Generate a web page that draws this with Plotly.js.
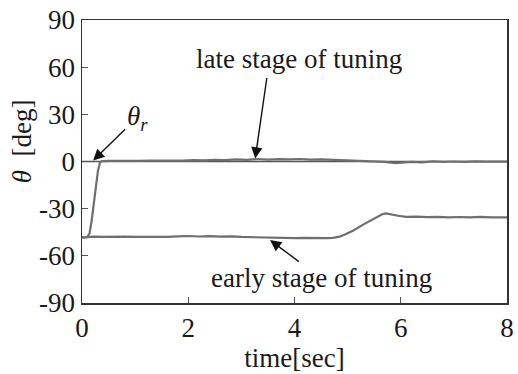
<!DOCTYPE html>
<html>
<head>
<meta charset="utf-8">
<script src="https://cdn.plot.ly/plotly-3.0.1.min.js"></script>
<style>html,body{margin:0;padding:0;background:#fff;}#chart{width:518px;height:374px;}</style>
</head>
<body>
<div id="chart"></div>
<script>
// ---- data ----
var refT = [0, 8];
var refTheta = [0, 0];

var lateT = [0, 0.05, 0.1, 0.14, 0.18, 0.22, 0.26, 0.3, 0.34, 0.38,
  0.5, 0.7, 0.9,
  1.1, 1.3, 1.5, 1.7, 1.9,
  2.1, 2.3, 2.5, 2.7, 2.9,
  3.1, 3.3, 3.5, 3.7, 3.9,
  4.1, 4.3, 4.5, 4.7, 4.9,
  5.1, 5.3, 5.5, 5.7, 5.9,
  6.0,
  6.2, 6.4, 6.6, 6.8,
  7.0, 7.2, 7.4, 7.6, 7.8,
  8.0];
var lateTheta = [-48, -48.3, -48, -46, -38, -27, -16, -6, -0.5, 0.3,
  0.4, 0.3, 0.5,
  0.4, 0.6, 0.5, 0.8, 0.6,
  0.9, 0.7, 1.1, 0.9, 1.3,
  1.0, 1.6, 1.2, 1.5, 1.3,
  1.6, 1.2, 1.4, 1.1, 1.0,
  0.6, 0.3, 0.1, -0.3, -1.0,
  -0.8,
  -0.2, -0.5, 0.1, -0.3,
  0, -0.2, 0.1, -0.1, 0,
  -0.1];

var earlyT = [0, 0.2, 0.4, 0.6, 0.8, 1.0, 1.2, 1.4, 1.6, 1.8,
  2.0, 2.2, 2.4, 2.6, 2.8, 3.0, 3.2, 3.4, 3.6, 3.8,
  4.0, 4.2, 4.4, 4.6,
  4.72, 4.85, 4.95, 5.1, 5.3, 5.5, 5.65, 5.72, 5.8, 5.95, 6.1,
  6.3, 6.5, 6.7, 6.9,
  7.1, 7.3, 7.5, 7.7, 7.9,
  8.0];
var earlyTheta = [-48.5, -47.8, -47.9, -47.7, -47.8, -47.9, -48.0, -48.1, -47.9, -47.6,
  -47.4, -47.7, -47.5, -47.8, -47.6, -48.0, -48.2, -48.3, -48.5, -48.4,
  -48.7, -48.6, -48.8, -48.7,
  -48.6, -47.8, -46.5, -44.0, -40.0, -36.2, -33.5, -33.0, -33.6, -34.5, -35.2,
  -35.0, -35.4, -35.2, -35.6,
  -35.3, -35.5, -35.2, -35.6, -35.4,
  -35.5];

var xTickVals = [0, 2, 4, 6, 8];
var xTickText = ['0', '2', '4', '6', '8'];
var yTickVals = [-90, -60, -30, 0, 30, 60, 90];
var yTickText = ['-90', '-60', '-30', '0', '30', '60', '90'];

var labelLate = 'late stage of tuning';
var labelEarly = 'early stage of tuning';
var labelRef = '<i>θ<sub>r</sub></i>';
var xTitle = 'time[sec]';
var yTitle = '<i>θ</i>  [deg]';

// ---- chart ----
var FONT = 'Liberation Serif, Times New Roman, serif';
var lineGray = '#6f6f6f';
var txtFont = {family: FONT, size: 27, color: '#1a1a1a'};

var traces = [
  {x: refT, y: refTheta, mode: 'lines', line: {color: '#555', width: 1.6}, hoverinfo: 'skip'},
  {x: earlyT, y: earlyTheta, mode: 'lines', line: {color: lineGray, width: 2.2}, hoverinfo: 'skip'},
  {x: lateT, y: lateTheta, mode: 'lines', line: {color: lineGray, width: 2.2}, hoverinfo: 'skip'}
];

var arrowStyle = {showarrow: true, arrowhead: 2, arrowsize: 1.6, arrowwidth: 1.4, arrowcolor: '#111', xref: 'x', yref: 'y', font: txtFont};

var layout = {
  width: 518, height: 374,
  margin: {l: 82, r: 11, t: 20, b: 71},
  paper_bgcolor: '#fff', plot_bgcolor: '#fff',
  showlegend: false,
  font: txtFont,
  xaxis: {
    range: [0, 8], tickvals: xTickVals, ticktext: xTickText,
    ticks: 'inside', ticklen: 6, tickwidth: 1.2, tickcolor: '#555',
    showline: true, mirror: true, linecolor: '#333', linewidth: 1.5,
    showgrid: false, zeroline: false,
    tickfont: txtFont,
    title: {text: xTitle, font: txtFont, standoff: 2}
  },
  yaxis: {
    range: [-90, 90], tickvals: yTickVals, ticktext: yTickText,
    ticks: 'inside', ticklen: 6, tickwidth: 1.2, tickcolor: '#555',
    showline: true, mirror: true, linecolor: '#333', linewidth: 1.5,
    showgrid: false, zeroline: false,
    tickfont: txtFont
  },
  annotations: [
    Object.assign({}, arrowStyle, {x: 0.21, y: 0.6, ax: 44, ay: -43, text: labelRef}),
    Object.assign({}, arrowStyle, {x: 3.26, y: 1.9, ax: 12, ay: -83, text: '&nbsp;', font: {family: FONT, size: 2, color: '#fff'}}),
    Object.assign({}, arrowStyle, {x: 3.54, y: -50, ax: 51, ay: 38, text: labelEarly}),
    {x: 4.09, y: 65.3, xref: 'x', yref: 'y', text: labelLate, showarrow: false, font: txtFont},
    {x: -0.141, y: 0.572, xref: 'paper', yref: 'paper', xanchor: 'center', yanchor: 'middle',
     text: yTitle, textangle: -90, showarrow: false, font: txtFont}
  ]
};

Plotly.newPlot('chart', traces, layout, {staticPlot: true, displayModeBar: false});
</script>
</body>
</html>
